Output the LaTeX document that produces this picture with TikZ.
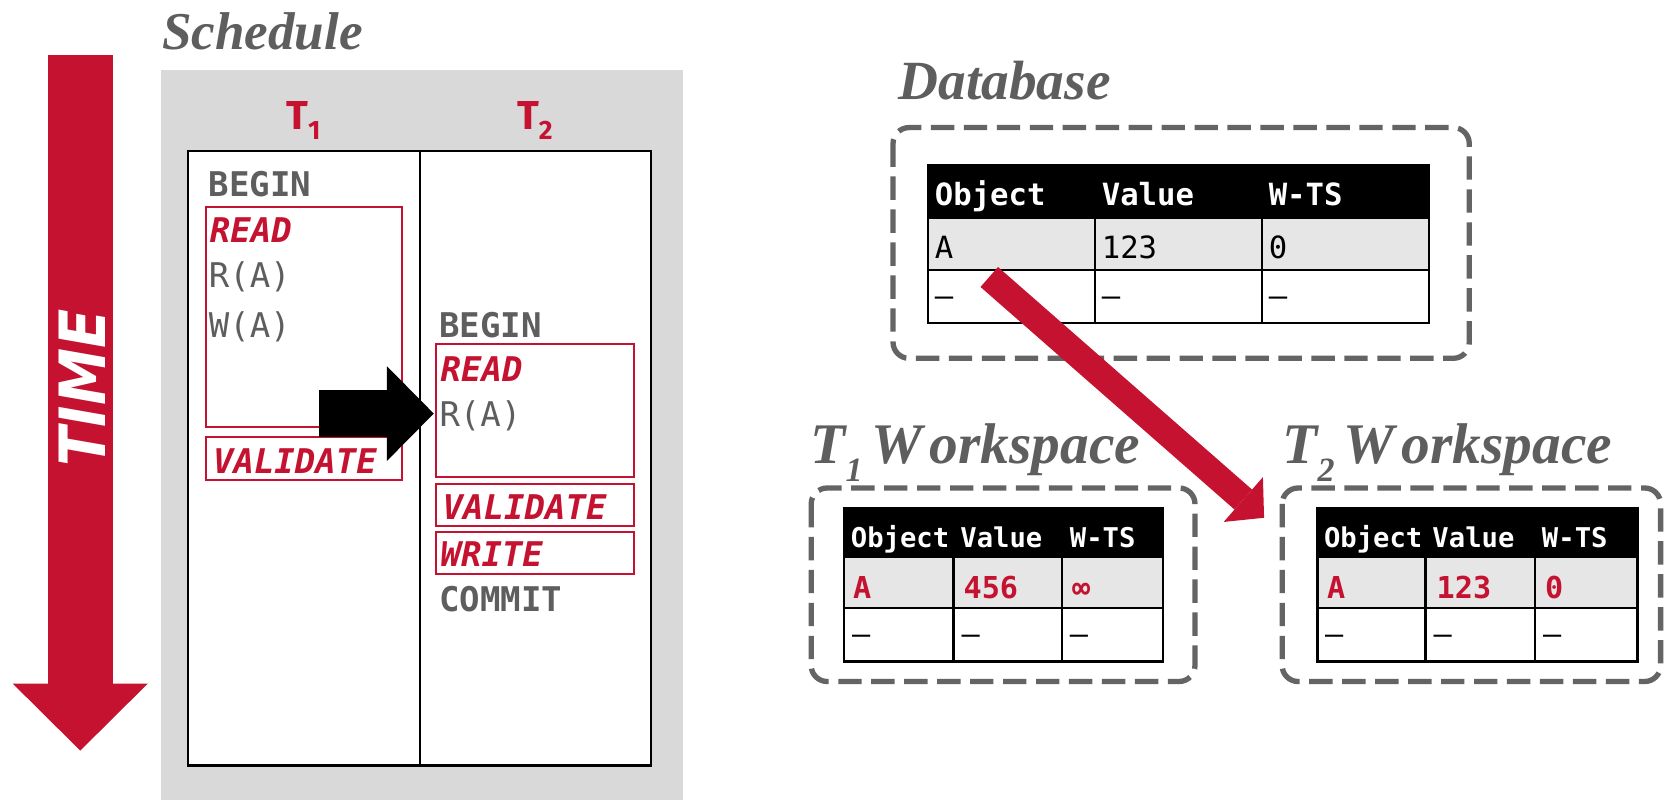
\documentclass[tikz,border=0pt]{standalone}
\usepackage{fontspec}
\setmainfont{Liberation Serif}
\newfontfamily\monof{DejaVu Sans Mono}
\newfontfamily\labf{Fira Sans}
\newfontfamily\timef{DejaVu Sans}
\usetikzlibrary{arrows.meta}
\definecolor{cmured}{HTML}{C41230}
\definecolor{txtgray}{HTML}{5E5E5E}
\definecolor{dashgray}{HTML}{646464}
\definecolor{schedbg}{HTML}{D9D9D9}
\definecolor{rowgray}{HTML}{E6E6E6}
\begin{document}
\begin{tikzpicture}[x=0.5pt,y=-0.5pt,
  title/.style={anchor=base west, inner sep=0, text=txtgray, font=\fontsize{26}{30}\selectfont\bfseries\itshape},
  tlab/.style={anchor=base west, inner sep=0, text=cmured, font=\labf\bfseries\fontsize{19}{22}\selectfont},
  op/.style={anchor=base west, inner sep=0, text=txtgray, font=\monof\fontsize{16}{18}\selectfont},
  opb/.style={op, font=\monof\bfseries\fontsize{16}{18}\selectfont},
  phase/.style={anchor=base west, inner sep=0, text=cmured, font=\monof\bfseries\itshape\fontsize{16}{18}\selectfont},
  phasebox/.style={draw=cmured, line width=0.9pt},
  dashbox/.style={draw=dashgray, line width=2.5pt, dash pattern=on 11pt off 4.5pt, rounded corners=7.5pt},
  grid/.style={draw=black, line width=1.2pt},
  dbhdr/.style={anchor=base west, inner sep=0, text=white, font=\monof\bfseries\fontsize{14.4}{17}\selectfont},
  dbcell/.style={anchor=base west, inner sep=0, text=black, font=\monof\fontsize{14.4}{17}\selectfont},
  wshdr/.style={anchor=base west, inner sep=0, text=white, font=\monof\bfseries\fontsize{12.8}{15}\selectfont},
  wsred/.style={anchor=base west, inner sep=0, text=cmured, font=\monof\bfseries\fontsize{14.2}{17}\selectfont},
  wscell/.style={anchor=base west, inner sep=0, text=black, font=\monof\fontsize{14.2}{17}\selectfont},
  wstitle/.style={title, font=\fontsize{27}{30}\selectfont\bfseries\itshape}
]
\useasboundingbox (0,0) rectangle (1568,752);
\fill[white] (0,0) rectangle (1568,752);

% ---------- TIME arrow ----------
\coordinate (timeTop) at (75.5,52);
\coordinate (timeTip) at (75.5,706);
\draw[cmured, line width=30.5pt, -{Triangle[length=31.5pt,width=63.5pt,line width=0pt]}] (timeTop) -- (timeTip);
\node[rotate=90, inner sep=0, text=white, font=\timef\bfseries\itshape\fontsize{30}{32}\selectfont] (timelabel) at (77,365) {\scalebox{0.9}[1]{TIME}};

% ---------- Schedule ----------
\node[title, font=\fontsize{25}{30}\selectfont\bfseries\itshape] (schedTitle) at (152,47) {Schedule};
\fill[schedbg] (151,66) rectangle (642,752);
\node[tlab] (t1lab) at (269,122) {T\raisebox{-4.5pt}{\fontsize{12.5}{12}\selectfont 1}};
\node[tlab] (t2lab) at (486,122) {T\raisebox{-4.5pt}{\fontsize{12.5}{12}\selectfont 2}};
\draw[fill=white, line width=1pt] (177,142) rectangle (612,720);
\draw[line width=1pt] (395,142) -- (395,720);

% T1 column
\node[opb] (t1begin) at (196,185) {BEGIN};
\draw[phasebox] (194,194.5) rectangle (378,402);
\node[phase] (t1read) at (197,228) {READ};
\node[op] (t1ra) at (196,270) {R(A)};
\node[op] (t1wa) at (196,317) {W(A)};
\draw[phasebox] (194,411) rectangle (378,451.5);
\node[phase] (t1val) at (200,445) {VALIDATE};

% T2 column
\node[opb] (t2begin) at (413,317) {BEGIN};
\draw[phasebox] (410,323.6) rectangle (596,449);
\node[phase] (t2read) at (414,359) {READ};
\node[op] (t2ra) at (413,401) {R(A)};
\draw[phasebox] (410,455) rectangle (596,495);
\node[phase] (t2val) at (416,489) {VALIDATE};
\draw[phasebox] (410,500.6) rectangle (596,540);
\node[phase] (t2write) at (414,533) {WRITE};
\node[opb] (t2commit) at (413,575.5) {COMMIT};

% black arrow
\coordinate (bkA) at (300,389);
\coordinate (bkB) at (408,389);
\draw[black, line width=22.5pt, -{Triangle[length=22pt,width=44.5pt,line width=0pt]}] (bkA) -- (bkB);

% ---------- Database ----------
\node[title] (dbTitle) at (845,94) {Database};
\draw[dashbox] (840,120) rectangle (1382,337);
\fill[black] (873,155) rectangle (1344,205);
\fill[rowgray] (873,205) rectangle (1344,254);
\fill[white] (873,254) rectangle (1344,304);
\draw[grid] (873,155) rectangle (1344,304) (873,205) -- (1344,205) (873,254) -- (1344,254)
  (1030,155) -- (1030,304) (1187,155) -- (1187,304);
\node[dbhdr] (dbh1) at (879,193) {Object};
\node[dbhdr] (dbh2) at (1036,193) {Value};
\node[dbhdr] (dbh3) at (1193,193) {W-TS};
\node[dbcell] (dba1) at (879,243) {A};
\node[dbcell] (dba2) at (1036,243) {123};
\node[dbcell] (dba3) at (1193,243) {0};
\node[dbcell] (dbb1) at (879,288) {–};
\node[dbcell] (dbb2) at (1036,288) {–};
\node[dbcell] (dbb3) at (1193,288) {–};

% ---------- T1 Workspace ----------
\node[wstitle] (ws1Title) at (762,436) {T\raisebox{-8.5pt}{\fontsize{16}{16}\selectfont 1}\kern4pt W\kern3.5pt orkspace};
\draw[dashbox] (763,459) rectangle (1124,641);
\fill[black] (794,478) rectangle (1094,524);
\fill[rowgray] (794,524) rectangle (1094,572);
\fill[white] (794,572) rectangle (1094,622);
\draw[grid] (794,478) rectangle (1094,622) (794,524) -- (1094,524) (794,572) -- (1094,572)
  (897,478) -- (897,622) (999,478) -- (999,622);
\node[wshdr] (w1h1) at (800,514.5) {Object};
\node[wshdr] (w1h2) at (903,514.5) {Value};
\node[wshdr] (w1h3) at (1006,514.5) {W-TS};
\node[wsred] (w1a1) at (802,563.4) {A};
\node[wsred] (w1a2) at (906,563.4) {456};
\node[wsred] (w1a3) at (1008,563.4) {∞};
\node[wscell] (w1b1) at (801,606) {–};
\node[wscell] (w1b2) at (904,606) {–};
\node[wscell] (w1b3) at (1006,606) {–};

% ---------- T2 Workspace ----------
\node[wstitle] (ws2Title) at (1206,436) {T\raisebox{-8.5pt}{\fontsize{16}{16}\selectfont 2}\kern4pt W\kern3.5pt orkspace};
\draw[dashbox] (1206,459) rectangle (1562,641);
\fill[black] (1239,478) rectangle (1540,524);
\fill[rowgray] (1239,524) rectangle (1540,572);
\fill[white] (1239,572) rectangle (1540,622);
\draw[grid] (1239,478) rectangle (1540,622) (1239,524) -- (1540,524) (1239,572) -- (1540,572)
  (1341,478) -- (1341,622) (1444,478) -- (1444,622);
\node[wshdr] (w2h1) at (1245,514.5) {Object};
\node[wshdr] (w2h2) at (1347,514.5) {Value};
\node[wshdr] (w2h3) at (1450,514.5) {W-TS};
\node[wsred] (w2a1) at (1248,563.4) {A};
\node[wsred] (w2a2) at (1351,563.4) {123};
\node[wsred] (w2a3) at (1453,563.4) {0};
\node[wscell] (w2b1) at (1246,606) {–};
\node[wscell] (w2b2) at (1348,606) {–};
\node[wscell] (w2b3) at (1451,606) {–};

% ---------- copy arrow ----------
\coordinate (cpA) at (930.5,260.5);
\coordinate (cpB) at (1189,487);
\draw[cmured, line width=12.5pt, -{Triangle[length=13pt,width=28pt,line width=0pt]}] (cpA) -- (cpB);
\end{tikzpicture}
\end{document}
